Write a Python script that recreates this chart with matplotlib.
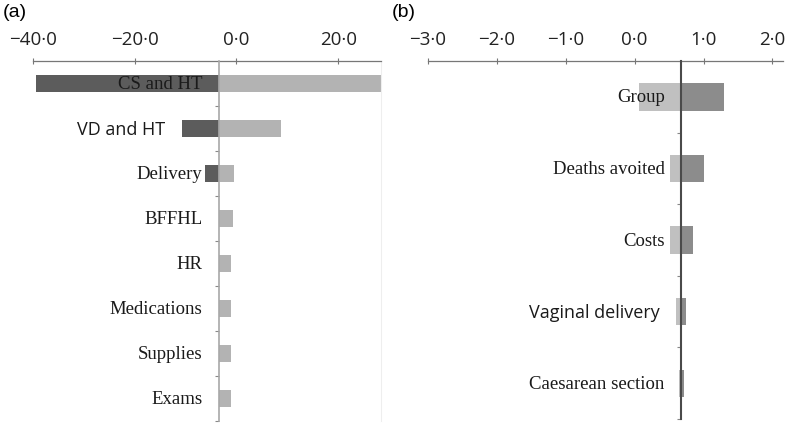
import matplotlib.pyplot as plt

# panel (a)
a_labels = ["CS and HT", "VD and HT", "Delivery", "BFFHL", "HR",
            "Medications", "Supplies", "Exams"]
a_low = [-39.4, -10.8, -6.1, -3.5, -3.5, -3.5, -3.5, -3.5]
a_high = [28.4, 8.8, -0.4, -0.6, -1.0, -1.0, -1.0, -1.0]
a_base = -3.5
a_ticks = [-40, -20, 0, 20]
a_ticklabels = ["\u221240\u00b70", "\u221220\u00b70", "0\u00b70", "20\u00b70"]

# panel (b)
b_labels = ["Group", "Deaths avoited", "Costs", "Vaginal delivery",
            "Caesarean section"]
b_low = [0.06, 0.51, 0.51, 0.60, 0.64]
b_high = [1.29, 1.00, 0.84, 0.74, 0.71]
b_base = 0.67
b_ticks = [-3, -2, -1, 0, 1, 2]
b_ticklabels = ["\u22123\u00b70", "\u22122\u00b70", "\u22121\u00b70",
                "0\u00b70", "1\u00b70", "2\u00b70"]

# these two were typed in another font and sit left of their bars
sans_labels = ["VD and HT", "Vaginal delivery"]

fig = plt.figure(figsize=(7.85, 4.27), dpi=100)
ax1 = fig.add_axes([0.042, 0.0117, 0.4433, 0.843])
ax2 = fig.add_axes([0.5452, 0.0164, 0.452, 0.838])


def tornado(ax, labels, low, high, base, ticks, ticklabels, xlim,
            left_col, right_col, base_col):
    n = len(labels)
    ys = list(range(n))
    ax.barh(ys, [base - v for v in low], left=low, height=0.38,
            color=left_col, zorder=2)
    ax.barh(ys, [v - base for v in high], left=base, height=0.38,
            color=right_col, zorder=2)
    ax.set_xlim(*xlim)
    ax.set_ylim(n - 0.5, -0.5)

    ax.xaxis.tick_top()
    ax.set_xticks(ticks)
    ax.set_xticklabels(ticklabels, fontfamily="Open Sans", fontsize=13.5,
                       color="#222222")
    ax.tick_params(axis="x", direction="inout", length=5, width=0.8,
                   color="#777777", pad=7)
    ax.set_yticks([y + 0.5 for y in ys])
    ax.set_yticklabels([])
    ax.tick_params(axis="y", direction="out", length=3, width=0.8,
                   color="#888888")

    ax.spines["bottom"].set_visible(False)
    ax.spines["right"].set_visible(False)
    ax.spines["top"].set_color("#777777")
    ax.spines["top"].set_linewidth(0.9)
    ax.spines["left"].set_position(("data", base))
    ax.spines["left"].set_color(base_col)
    ax.spines["left"].set_zorder(3)

    for y, lab, lo in zip(ys, labels, low):
        if lab in sans_labels:
            ax.annotate(lab, (min(lo, base), y), xytext=(-12, 0),
                        textcoords="offset points", ha="right", va="center",
                        fontfamily="Open Sans", fontsize=13,
                        color="#1a1a1a", zorder=4)
        else:
            ax.annotate(lab, (base, y), xytext=(-11.5, 0),
                        textcoords="offset points", ha="right", va="center",
                        fontfamily="Liberation Serif", fontsize=13.5,
                        color="#1a1a1a", zorder=4)


tornado(ax1, a_labels, a_low, a_high, a_base, a_ticks, a_ticklabels,
        (-40, 28.4), "#5c5c5c", "#b3b3b3", "#a8a8a8")
ax1.spines["left"].set_linewidth(1.2)
ax1.spines["right"].set_visible(True)
ax1.spines["right"].set_color("#eeeeee")

tornado(ax2, b_labels, b_low, b_high, b_base, b_ticks, b_ticklabels,
        (-3, 2.15), "#c0c0c0", "#8c8c8c", "#4a4a4a")
ax2.spines["left"].set_linewidth(1.5)

fig.text(0.003, 0.99, "(a)", ha="left", va="top", fontsize=14,
         fontfamily="Liberation Sans")
fig.text(0.499, 0.99, "(b)", ha="left", va="top", fontsize=14,
         fontfamily="Liberation Sans")

fig.savefig("out.png", dpi=100)
